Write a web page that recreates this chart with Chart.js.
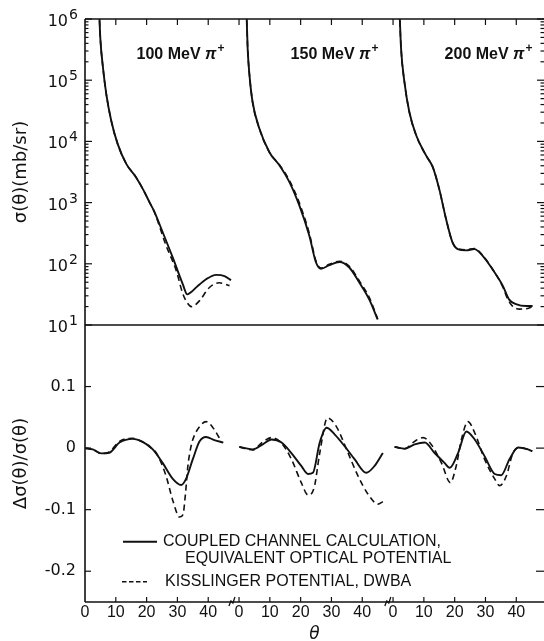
<!DOCTYPE html>
<html>
<head>
<meta charset="utf-8">
<script src="https://cdn.jsdelivr.net/npm/chart.js@4.4.1/dist/chart.umd.min.js"></script>
<style>
  body { margin: 0; background: #fff; }
  #wrap { position: relative; width: 544px; height: 641px; }
  canvas { position: absolute; left: 0; }
</style>
</head>
<body>
<div id="wrap">
  <canvas id="topChart" width="544" height="340" style="top:0"></canvas>
  <canvas id="botChart" width="544" height="317" style="top:324px"></canvas>
</div>
<script>
// three angular ranges drawn side by side on one axis, shifted by these offsets
const segOffset = [0, 50, 100];
const xTickLabels = [0, 10, 20, 30, 40];
const axisBreaks = [47.7, 98.3];
const energyLabels = ['100 MeV', '150 MeV', '200 MeV'];
const topDecades = [1, 2, 3, 4, 5, 6];
const botTicks = [0.1, 0, -0.1, -0.2];
const legendSolid = ['COUPLED CHANNEL CALCULATION,', 'EQUIVALENT OPTICAL POTENTIAL'];
const legendDashed = ['KISSLINGER POTENTIAL, DWBA'];

// upper panel: sigma(theta) in mb/sr
const thTop100cc = [4.5, 4.7, 5.0, 5.8, 6.9, 8.5, 10.6, 13.4, 16.5, 18.8, 21.0, 22.5, 25.2, 28.5, 31.7, 33.2, 34.6, 36.3, 39.3, 42.6, 45.3, 47.4];
const sigTop100cc = [2e6, 1e6, 4.6e5, 1.66e5, 6.0e4, 2.2e4, 9100, 4300, 2630, 1660, 1000, 710, 330, 126, 47, 31.6, 35, 42, 56, 66, 63, 54];
const thTop100ks = [4.5, 4.7, 5.0, 5.8, 6.9, 8.5, 10.6, 13.4, 16.5, 18.8, 21.0, 22.5, 23.6, 26.3, 29.6, 31.7, 33.2, 34.5, 35.8, 37.2, 40.4, 43.6, 46.9];
const sigTop100ks = [2e6, 1e6, 4.6e5, 1.66e5, 6.0e4, 2.2e4, 9100, 4300, 2630, 1660, 1000, 710, 500, 200, 78, 33, 23, 20, 21.4, 25, 41, 49, 44];

const thTop150cc = [2.3, 2.5, 2.8, 3.4, 4.4, 6.6, 9.9, 13.1, 16.4, 19.6, 22.8, 25.0, 26.6, 29.3, 32.6, 35.8, 39.1, 42.3, 45.0];
const sigTop150cc = [2e6, 1e6, 3.3e5, 1.2e5, 4.4e4, 1.62e4, 6600, 4070, 2140, 890, 290, 105, 83, 95, 107, 87, 49, 26, 12.3];
const thTop150ks = [2.3, 2.5, 2.8, 3.4, 4.4, 6.6, 9.9, 13.1, 16.4, 19.6, 22.8, 25.0, 26.6, 29.3, 32.6, 35.8, 39.1, 42.3, 45.0];
const sigTop150ks = [2e6, 1e6, 3.3e5, 1.2e5, 4.4e4, 1.62e4, 6600, 4170, 2290, 980, 316, 110, 85, 98, 110, 91, 52, 28, 12.6];

const thTop200cc = [2.0, 2.2, 2.6, 3.7, 5.3, 7.5, 10.7, 12.9, 15.0, 17.2, 19.3, 21.0, 23.7, 26.4, 29.1, 32.3, 35.6, 37.7, 39.9, 43.2, 45.3];
const sigTop200cc = [2e6, 1e6, 3.3e5, 9.3e4, 3.0e4, 1.26e4, 5900, 3800, 1660, 540, 224, 174, 166, 174, 135, 81, 44, 26, 22, 20.4, 20.4];
const thTop200ks = [2.0, 2.2, 2.6, 3.7, 5.3, 7.5, 10.7, 12.9, 15.0, 17.2, 19.3, 21.0, 23.7, 26.4, 29.1, 32.3, 35.6, 37.0, 38.5, 41.0, 44.2, 45.5];
const sigTop200ks = [2e6, 1e6, 3.3e5, 9.3e4, 3.0e4, 1.26e4, 5900, 3800, 1660, 540, 224, 176, 170, 178, 137, 82, 42, 28, 21, 18.2, 19, 21];

// lower panel: delta sigma / sigma
const thBot100cc = [0, 2.5, 5.3, 7.9, 11.2, 15.5, 18.7, 22.0, 25.2, 28.5, 31.2, 32.8, 35.0, 37.2, 39.3, 42.0, 44.9];
const dBot100cc = [0, -0.002, -0.0085, -0.0075, 0.009, 0.015, 0.010, -0.002, -0.024, -0.050, -0.060, -0.050, -0.018, 0.011, 0.018, 0.013, 0.009];
const thBot100ks = [0, 2.5, 5.3, 7.9, 11.2, 15.5, 18.7, 21.0, 23.1, 26.3, 28.5, 30.7, 31.8, 32.6, 33.4, 34.3, 35.0, 37.2, 39.3, 42.0, 44.2];
const dBot100ks = [0, -0.002, -0.009, -0.006, 0.011, 0.016, 0.010, 0.002, -0.0075, -0.045, -0.085, -0.112, -0.108, -0.075, -0.029, 0.0, 0.014, 0.035, 0.043, 0.030, 0.011];

const thBot150cc = [0.1, 4.4, 7.7, 10.5, 13.8, 17.0, 20.2, 22.4, 24.0, 26.2, 28.4, 31.1, 34.3, 37.5, 41.3, 44.0, 46.7];
const dBot150cc = [0.002, -0.002, 0.006, 0.014, 0.009, -0.008, -0.029, -0.042, -0.040, 0.009, 0.033, 0.022, 0.003, -0.018, -0.040, -0.029, -0.008];
const thBot150ks = [0.1, 4.4, 7.7, 10.5, 13.8, 17.0, 20.2, 22.4, 24.4, 26.2, 28.7, 31.6, 35.4, 38.6, 41.9, 45.1, 46.7];
const dBot150ks = [0.002, -0.003, 0.010, 0.017, 0.008, -0.018, -0.056, -0.076, -0.064, -0.008, 0.049, 0.035, -0.008, -0.045, -0.075, -0.091, -0.087];

const thBot200cc = [0.5, 3.8, 7.0, 10.3, 13.5, 16.7, 18.4, 21.1, 23.8, 26.5, 29.7, 33.0, 35.1, 37.8, 40.6, 43.8, 45.2];
const dBot200cc = [0.002, -0.001, 0.006, 0.009, -0.008, -0.024, -0.032, -0.008, 0.027, 0.014, -0.013, -0.042, -0.044, -0.018, 0.001, -0.002, -0.005];
const thBot200ks = [0.5, 3.8, 7.0, 9.7, 12.4, 15.7, 18.6, 20.5, 22.2, 24.3, 26.5, 29.7, 33.0, 34.6, 36.8, 38.9, 41.1, 43.8, 45.2];
const dBot200ks = [0.002, -0.001, 0.011, 0.017, 0.006, -0.024, -0.056, -0.029, 0.014, 0.043, 0.025, -0.018, -0.050, -0.061, -0.045, -0.008, 0.001, -0.002, -0.005];

const ink = '#111';
const tickPositions = segOffset.flatMap(o => xTickLabels.map(t => o + t));

Chart.defaults.font.family = '"Liberation Sans", sans-serif';
Chart.defaults.color = ink;

function pts(th, vals, seg) {
  return th.map((t, i) => ({ x: t + segOffset[seg], y: vals[i] }));
}

function curve(th, vals, seg, dashed) {
  return {
    data: pts(th, vals, seg),
    borderColor: ink,
    borderWidth: dashed ? 1.6 : 1.9,
    borderDash: dashed ? [6, 4] : [],
    pointRadius: 0,
    cubicInterpolationMode: 'monotone',
    fill: false
  };
}

function line(ctx, x1, y1, x2, y2) {
  ctx.beginPath();
  ctx.moveTo(x1, y1);
  ctx.lineTo(x2, y2);
  ctx.stroke();
}

// no extra room around the axes: panel edges must sit exactly where set
function tightFit(s, w, h) {
  if (w) s.width = w;
  if (h) s.height = h;
  s.paddingTop = 0;
  s.paddingBottom = 0;
  s.paddingLeft = 0;
  s.paddingRight = 0;
}

function drawEnergy(ctx, cx, by, txt) {
  ctx.textAlign = 'left';
  ctx.textBaseline = 'alphabetic';
  ctx.font = 'bold 16px "Liberation Sans"';
  const w1 = ctx.measureText(txt + ' ').width;
  ctx.font = 'italic bold 16px "Liberation Sans"';
  const w2 = ctx.measureText('π').width;
  ctx.font = 'bold 12px "Liberation Sans"';
  const w3 = ctx.measureText('+').width;
  let x0 = cx - (w1 + w2 + w3 + 1) / 2;
  ctx.font = 'bold 16px "Liberation Sans"';
  ctx.fillText(txt, x0, by);
  ctx.font = 'italic bold 16px "Liberation Sans"';
  ctx.fillText('π', x0 + w1, by);
  ctx.font = 'bold 12px "Liberation Sans"';
  ctx.fillText('+', x0 + w1 + w2 + 1, by - 7);
}

const topDecor = {
  id: 'topDecor',
  afterDraw(chart) {
    const { ctx, chartArea: a, scales: { x, y } } = chart;
    ctx.save();
    ctx.strokeStyle = ink;
    ctx.fillStyle = ink;
    ctx.lineWidth = 1.6;
    line(ctx, a.left, a.top, a.right, a.top);
    line(ctx, a.left, a.top, a.left, a.bottom);
    ctx.lineWidth = 1.2;
    tickPositions.forEach(v => {
      if (v === 0) return;
      const px = x.getPixelForValue(v);
      line(ctx, px, a.top, px, a.top + 6);
    });
    for (let d = 1; d <= 6; d++) {
      for (let m = 1; m <= 9; m++) {
        const val = m * Math.pow(10, d);
        if (val > 1e6) break;
        const py = y.getPixelForValue(val);
        const len = m === 1 ? 7 : 3.5;
        line(ctx, a.left, py, a.left + len, py);
        line(ctx, a.right, py, a.right - len, py);
      }
    }
    ctx.textBaseline = 'alphabetic';
    topDecades.forEach(e => {
      const py = y.getPixelForValue(Math.pow(10, e));
      ctx.font = '16px "DejaVu Sans"';
      ctx.textAlign = 'right';
      ctx.fillText('10', a.left - 17, py + 7);
      ctx.font = '14px "DejaVu Sans"';
      ctx.textAlign = 'left';
      ctx.fillText(String(e), a.left - 16, py);
    });
    energyLabels.forEach((t, i) => {
      drawEnergy(ctx, x.getPixelForValue(segOffset[i] + 31), a.top + 40, t);
    });
    ctx.restore();
  }
};

const botDecor = {
  id: 'botDecor',
  afterDraw(chart) {
    const { ctx, chartArea: a, scales: { x, y } } = chart;
    ctx.save();
    ctx.strokeStyle = ink;
    ctx.fillStyle = ink;
    ctx.lineWidth = 1.6;
    line(ctx, a.left, a.top, a.right, a.top);
    line(ctx, a.left, a.top, a.left, a.bottom);
    line(ctx, a.left, a.bottom, a.right, a.bottom);
    ctx.lineWidth = 1.2;
    tickPositions.forEach(v => {
      if (v === 0) return;
      const px = x.getPixelForValue(v);
      line(ctx, px, a.bottom, px, a.bottom - 5);
    });
    botTicks.forEach(v => {
      const py = y.getPixelForValue(v);
      line(ctx, a.left, py, a.left + 6, py);
      line(ctx, a.right, py, a.right - 8, py);
    });
    // axis breaks
    ctx.lineWidth = 1.3;
    axisBreaks.forEach(v => {
      const px = x.getPixelForValue(v), py = a.bottom;
      ctx.beginPath();
      ctx.moveTo(px - 3, py + 4);
      ctx.lineTo(px - 1, py - 1);
      ctx.lineTo(px + 1, py + 1);
      ctx.lineTo(px + 3, py - 5);
      ctx.stroke();
    });
    // legend
    ctx.lineWidth = 1.9;
    line(ctx, a.left + 38, a.top + 216.7, a.left + 72, a.top + 216.7);
    ctx.lineWidth = 1.6;
    ctx.setLineDash([4.5, 2.5]);
    line(ctx, a.left + 37, a.top + 256.7, a.left + 62, a.top + 256.7);
    ctx.setLineDash([]);
    ctx.font = '16px "Liberation Sans"';
    ctx.textAlign = 'left';
    ctx.textBaseline = 'middle';
    ctx.fillText(legendSolid[0], a.left + 78, a.top + 216.7);
    ctx.fillText(legendSolid[1], a.left + 100, a.top + 234);
    ctx.fillText(legendDashed[0], a.left + 80, a.top + 256.5);
    ctx.restore();
  }
};

const baseOpts = {
  responsive: false,
  animation: false,
  plugins: { legend: { display: false }, tooltip: { enabled: false } }
};

new Chart(document.getElementById('topChart'), {
  type: 'line',
  data: {
    datasets: [
      curve(thTop100cc, sigTop100cc, 0, false),
      curve(thTop150cc, sigTop150cc, 1, false),
      curve(thTop200cc, sigTop200cc, 2, false),
      curve(thTop100ks, sigTop100ks, 0, true),
      curve(thTop150ks, sigTop150ks, 1, true),
      curve(thTop200ks, sigTop200ks, 2, true)
    ]
  },
  options: {
    ...baseOpts,
    layout: { padding: { top: 19, right: 0, bottom: 15, left: 0 } },
    scales: {
      x: { type: 'linear', min: 0, max: 149, display: false },
      y: {
        type: 'logarithmic', min: 10, max: 1e6,
        grid: { display: false, drawTicks: false },
        border: { display: false },
        ticks: { display: false },
        title: {
          display: true, text: 'σ(θ)(mb/sr)', color: ink,
          font: { family: '"DejaVu Sans"', size: 18 },
          padding: { top: 11, bottom: 0 }
        },
        afterFit(s) { tightFit(s, 85); }
      }
    }
  },
  plugins: [topDecor]
});

new Chart(document.getElementById('botChart'), {
  type: 'line',
  data: {
    datasets: [
      curve(thBot100cc, dBot100cc, 0, false),
      curve(thBot150cc, dBot150cc, 1, false),
      curve(thBot200cc, dBot200cc, 2, false),
      curve(thBot100ks, dBot100ks, 0, true),
      curve(thBot150ks, dBot150ks, 1, true),
      curve(thBot200ks, dBot200ks, 2, true)
    ]
  },
  options: {
    ...baseOpts,
    layout: { padding: { top: 1, right: 0, bottom: 0, left: 0 } },
    scales: {
      x: {
        type: 'linear', min: 0, max: 149,
        grid: { display: false, drawTicks: false },
        border: { display: false },
        afterBuildTicks(s) { s.ticks = tickPositions.map(value => ({ value })); },
        ticks: {
          autoSkip: false, maxRotation: 0, padding: 1,
          font: { size: 16 },
          callback: v => String(v % 50)
        },
        title: {
          display: true, text: 'θ', color: ink,
          font: { family: '"DejaVu Sans"', size: 17, style: 'italic', lineHeight: 0.8 },
          padding: { top: 0, bottom: 0 }
        },
        afterFit(s) { tightFit(s, 0, 39); }
      },
      y: {
        min: -0.25, max: 0.2,
        grid: { display: false, drawTicks: false },
        border: { display: false },
        ticks: {
          stepSize: 0.1, padding: 9,
          font: { family: '"DejaVu Sans"', size: 16 },
          callback: v => {
            const r = Math.round(v * 10) / 10;
            if (Math.abs(v - r) > 1e-6 || !botTicks.includes(r)) return null;
            return r === 0 ? '0' : r.toFixed(1);
          }
        },
        title: {
          display: true, text: 'Δσ(θ)/σ(θ)', color: ink,
          font: { family: '"DejaVu Sans"', size: 18 },
          padding: { top: 11, bottom: 0 }
        },
        afterFit(s) { tightFit(s, 85); }
      }
    }
  },
  plugins: [botDecor]
});
</script>
</body>
</html>
